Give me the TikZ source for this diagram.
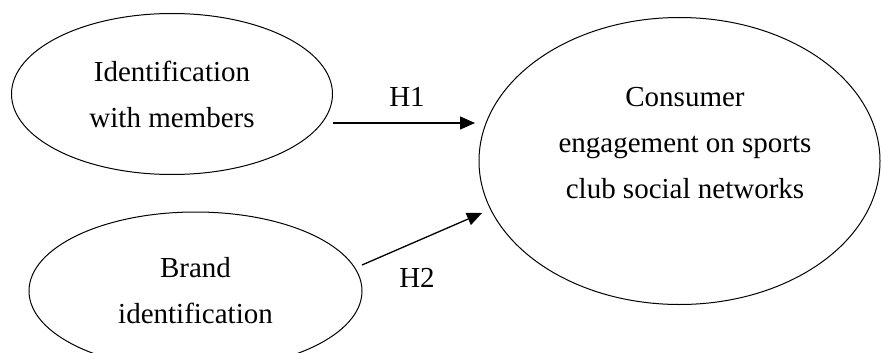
\documentclass[tikz,border=0pt]{standalone}
\usepackage{fontspec}
\setmainfont{Liberation Serif}
\usetikzlibrary{shapes.geometric,arrows.meta}
\begin{document}
\begin{tikzpicture}[x=1pt,y=-1pt,
  construct/.style={ellipse, draw, line width=1pt, align=center, inner sep=0pt,
    font=\fontsize{29}{46}\selectfont},
  txt/.style={align=center, inner sep=0pt, font=\fontsize{29}{46}\selectfont},
  lbl/.style={inner sep=0pt, font=\fontsize{29}{34}\selectfont},
  path/.style={line width=1.3pt, -{Triangle[length=15pt,width=13pt]}}]
\useasboundingbox (0,0) rectangle (881,353);
\node[construct, minimum width=321pt, minimum height=161pt] (e1) at (172,94) {Identification\\with members};
\node[construct, minimum width=333pt, minimum height=158pt] (e2) at (195.5,291) {Brand\\identification};
\node[construct, minimum width=401pt, minimum height=287pt] (ce) at (679.5,161) {};
\node[txt] (cetext) at (685,143) {Consumer\\engagement on sports\\club social networks};
\coordinate (h1s) at (333,123);
\coordinate (h1e) at (475,123);
\coordinate (h2s) at (362,265);
\coordinate (h2e) at (482,213);
\draw[path] (h1s) -- (h1e);
\draw[path] (h2s) -- (h2e);
\node[lbl] (h1) at (407,97) {H1};
\node[lbl] (h2) at (417,278) {H2};
\end{tikzpicture}
\end{document}
